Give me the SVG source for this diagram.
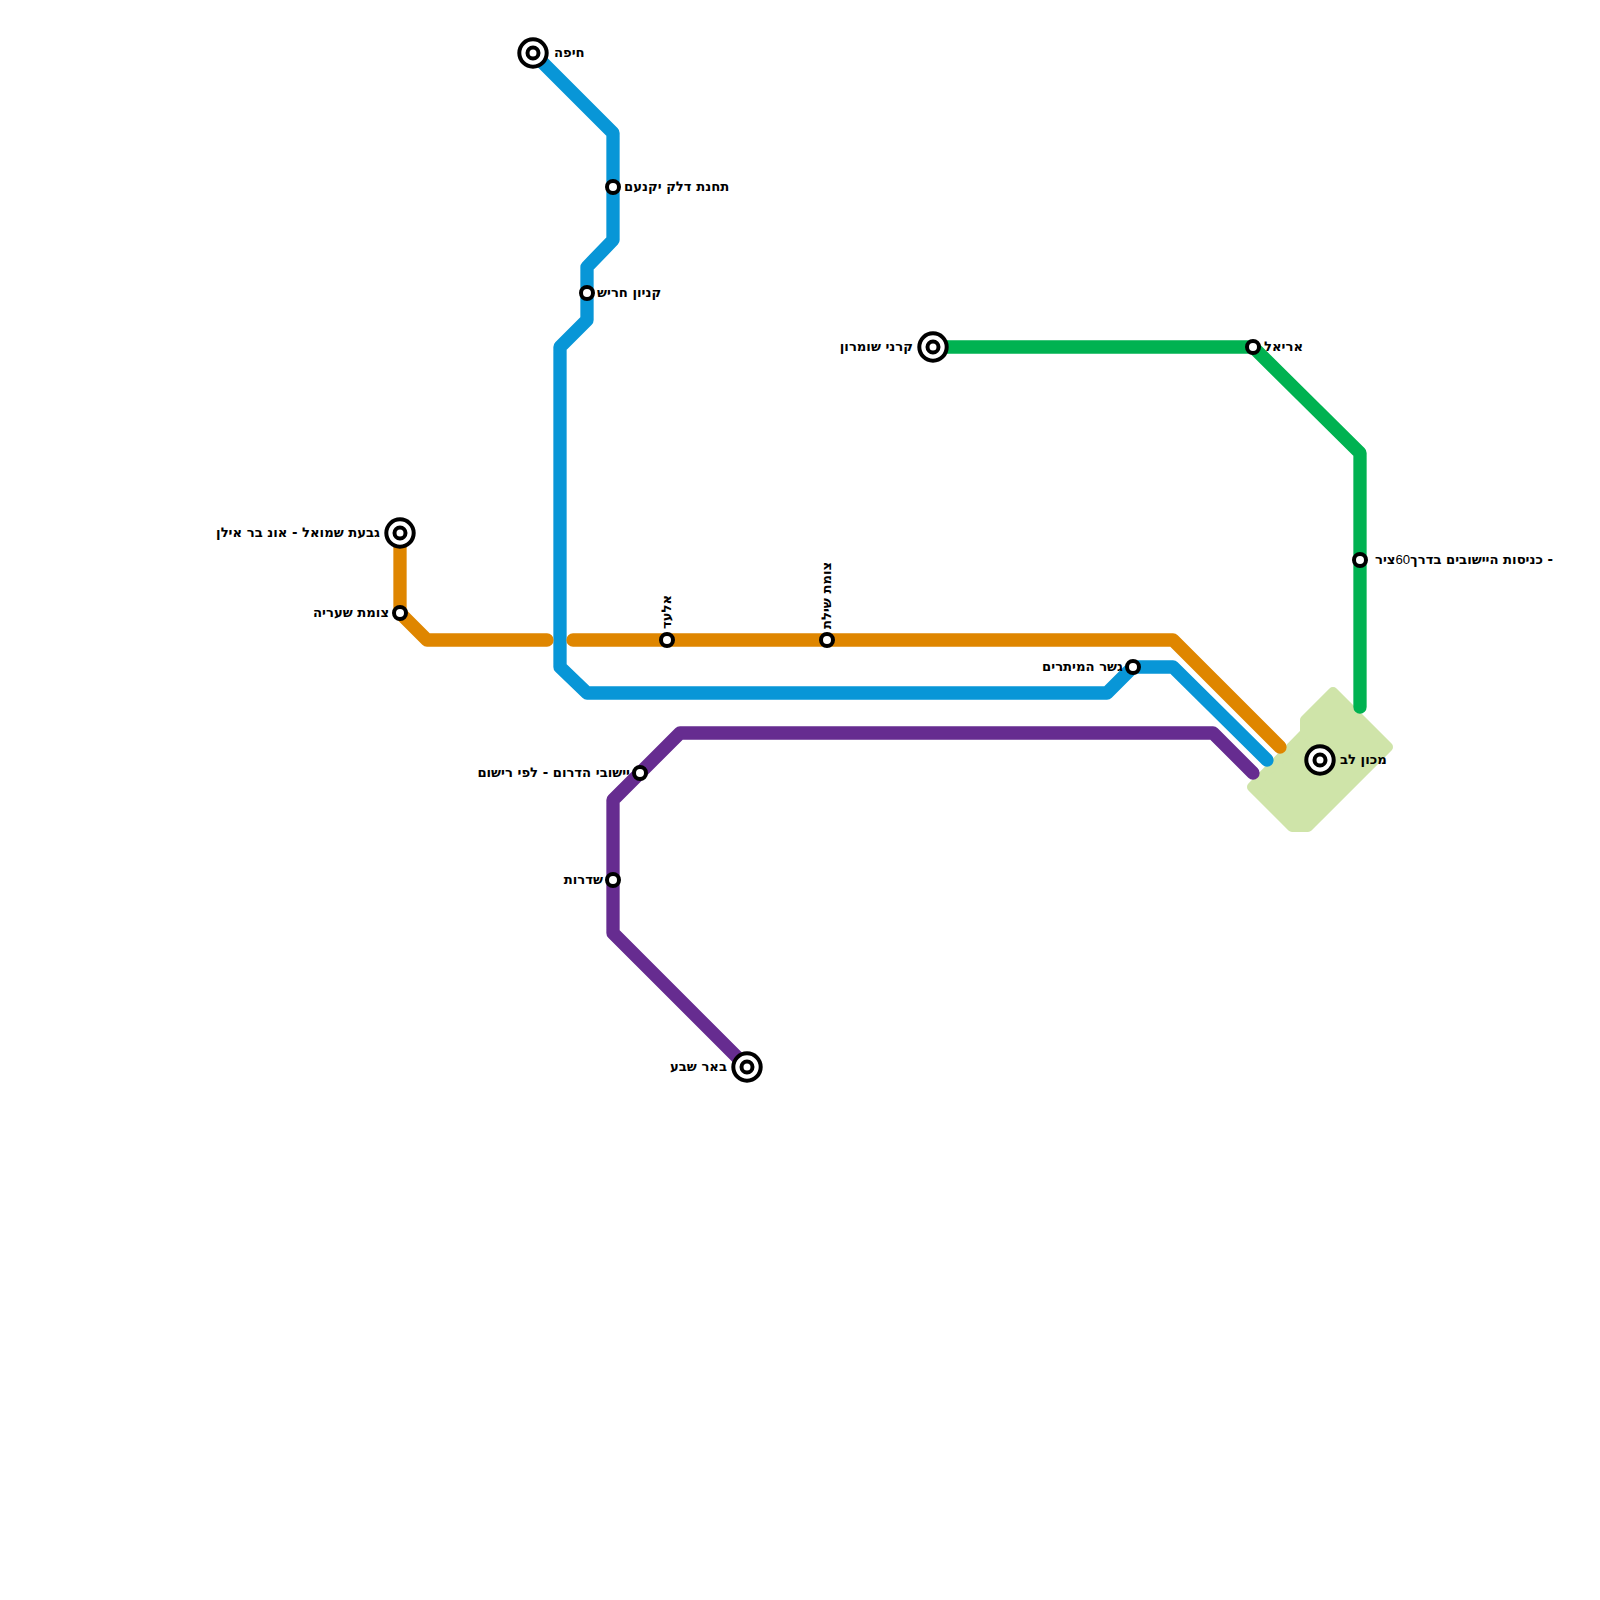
<svg xmlns="http://www.w3.org/2000/svg" width="1600" height="1600" viewBox="0 0 1600 1600">
<style>
.line{fill:none;stroke-width:13.3;stroke-linecap:round;stroke-linejoin:round}
.st{fill:#fff;stroke:#000;stroke-width:4}
.lb{font-family:"DejaVu Sans",sans-serif;font-weight:700;font-size:13.2px;fill:#000;direction:rtl}
.num{font-family:"Liberation Sans",sans-serif;font-weight:400}
.e{text-anchor:end}
.s{text-anchor:start}
</style>
<rect width="1600" height="1600" fill="#fff"/>
<g id="park"><polygon points="1333,692 1388,747 1308,827 1292,827 1252,787 1305,733 1305,720" fill="#cfe4a9" stroke="#cfe4a9" stroke-width="10" stroke-linejoin="round"/></g>
<g id="connectors">
<polyline class="line" stroke="#0896d7" points="533,53 613,133 613,240 587,267 587,320 560,347 560,667 587,693 1107,693 1133,667 1173,667 1267,760"/>
<polyline class="line" stroke="#df8600" points="400,533 400,613 427,640 547,640"/>
<polyline class="line" stroke="#df8600" points="573,640 1173,640 1280,747"/>
<polyline class="line" stroke="#662c90" points="747,1067 613,933 613,800 680,733 1213,733 1253,773"/>
<polyline class="line" stroke="#00b251" points="933,347 1253,347 1360,453 1360,707"/>
</g>
<g id="haifa"><circle class="st" cx="533" cy="53" r="13.7"/><circle class="st" cx="533" cy="53" r="5.5"/><text class="lb e" x="554" y="57">חיפה</text></g>
<g id="yokneam"><circle class="st" cx="613" cy="187" r="6"/><text class="lb e" x="624" y="191">תחנת דלק יקנעם</text></g>
<g id="harish"><circle class="st" cx="587" cy="293" r="6"/><text class="lb e" x="597" y="297">קניון חריש</text></g>
<g id="givat"><circle class="st" cx="400" cy="533" r="13.7"/><circle class="st" cx="400" cy="533" r="5.5"/><text class="lb s" x="380" y="537">גבעת שמואל - אונ בר אילן</text></g>
<g id="sharia"><circle class="st" cx="400" cy="613" r="6"/><text class="lb s" x="389" y="617">צומת שעריה</text></g>
<g id="elad"><circle class="st" cx="667" cy="640" r="6"/><text class="lb e" transform="translate(671 629) rotate(-90)">אלעד</text></g>
<g id="shilat"><circle class="st" cx="827" cy="640" r="6"/><text class="lb e" transform="translate(831 629) rotate(-90)">צומת שילת</text></g>
<g id="gesher"><circle class="st" cx="1133" cy="667" r="6"/><text class="lb s" x="1123" y="671">גשר המיתרים</text></g>
<g id="keren"><circle class="st" cx="933" cy="347" r="13.7"/><circle class="st" cx="933" cy="347" r="5.5"/><text class="lb s" x="913" y="351">קרני שומרון</text></g>
<g id="ariel"><circle class="st" cx="1253" cy="347" r="6"/><text class="lb e" x="1264" y="351">אריאל</text></g>
<g id="kvish"><circle class="st" cx="1360" cy="560" r="6"/><text class="lb e" x="1375" y="564">- כניסות היישובים בדרך<tspan class="num">60</tspan>ציר</text></g>
<g id="lev"><circle class="st" cx="1320" cy="760" r="13.7"/><circle class="st" cx="1320" cy="760" r="5.5"/><text class="lb e" x="1340" y="764">מכון לב</text></g>
<g id="yishuvei"><circle class="st" cx="640" cy="773" r="6"/><text class="lb s" x="630" y="777">יישובי הדרום - לפי רישום</text></g>
<g id="sderot"><circle class="st" cx="613" cy="880" r="6"/><text class="lb s" x="603" y="884">שדרות</text></g>
<g id="beersheva"><circle class="st" cx="747" cy="1067" r="13.7"/><circle class="st" cx="747" cy="1067" r="5.5"/><text class="lb s" x="727" y="1071">באר שבע</text></g>
</svg>
